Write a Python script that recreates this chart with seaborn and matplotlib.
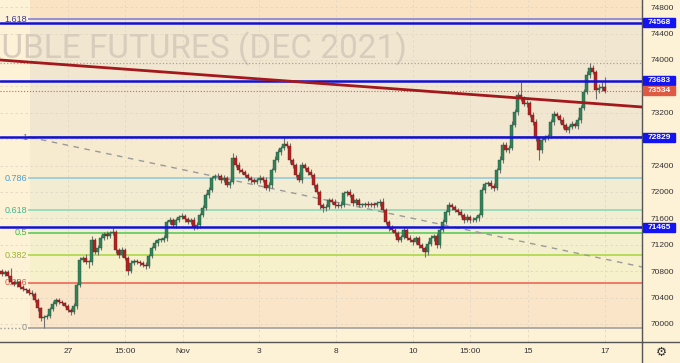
import numpy as np
import pandas as pd
import seaborn as sns
import matplotlib.pyplot as plt
from matplotlib.patches import Rectangle
from matplotlib.lines import Line2D

# Candles (hourly closes) --------------------------------------------------
first_open = 70800
close = [
    70760, 70790, 70725, 70635, 70605, 70635, 70560, 70530, 70515, 70470,
    70455, 70365, 70240, 70090, 70105, 70120, 70225, 70305, 70365, 70335,
    70320, 70275, 70210, 70180, 70275, 70590, 70970, 71000, 70940, 70940,
    71275, 71090, 71150, 71305, 71365, 71335, 71380, 71395, 71120, 71045,
    71120, 71000, 70805, 70925, 70955, 70940, 70925, 70895, 70880, 71030,
    71150, 71225, 71275, 71275, 71305, 71545, 71575, 71500, 71575, 71620,
    71635, 71590, 71545, 71575, 71470, 71500, 71650, 71755, 71955, 72030,
    72210, 72240, 72240, 72180, 72210, 72105, 72150, 72515, 72410, 72335,
    72305, 72255, 72210, 72180, 72150, 72180, 72210, 72180, 72060, 72105,
    72335, 72485, 72605, 72665, 72725, 72695, 72485, 72410, 72255, 72180,
    72410, 72365, 72305, 72255, 72105, 72000, 71805, 71755, 71775, 71880,
    71850, 71805, 71790, 71805, 71985, 72000, 71955, 71835, 71880, 71805,
    71805, 71820, 71805, 71820, 71805, 71835, 71850, 71725, 71545, 71455,
    71425, 71380, 71275, 71320, 71425, 71305, 71275, 71240, 71305, 71195,
    71150, 71090, 71210, 71305, 71335, 71195, 71425, 71545, 71695, 71805,
    71775, 71725, 71695, 71650, 71575, 71620, 71575, 71575, 71605, 71650,
    72030, 72120, 72135, 72090, 72060, 72335, 72485, 72710, 72635, 72665,
    73015, 73210, 73470, 73425, 73335, 73350, 73165, 73060, 72820, 72635,
    72790, 72835, 72850, 73060, 73180, 73150, 73090, 73015, 72940, 72985,
    73030, 73000, 73090, 73270, 73515, 73770, 73880, 73820, 73545, 73575,
    73590, 73534,
]
wick_up = [
    40, 35, 30, 125, 30, 45, 25, 30, 20, 35, 40, 30, 25, 20, 30, 35, 25, 40, 30, 25,
    30, 20, 35, 25, 40, 30, 45, 25, 55, 30, 60, 35, 40, 45, 30, 40, 25, 60, 30, 25,
    40, 30, 35, 40, 25, 30, 35, 30, 45, 35, 30, 40, 25, 35, 50, 30, 40, 35, 30, 25,
    40, 30, 35, 30, 45, 40, 35, 50, 30, 40, 25, 35, 45, 30, 40, 35, 30, 75, 45, 40,
    30, 35, 40, 25, 30, 35, 40, 30, 45, 50, 35, 60, 40, 35, 104, 40, 45, 35, 30, 55,
    40, 35, 30, 45, 40, 35, 30, 25, 40, 35, 30, 45, 40, 55, 35, 30, 40, 30, 35, 25,
    30, 35, 40, 30, 25, 35, 40, 60, 30, 35, 40, 30, 25, 35, 45, 30, 40, 35, 30, 25,
    30, 35, 40, 50, 35, 40, 30, 45, 35, 40, 30, 25, 35, 40, 30, 45, 35, 40, 30, 35,
    40, 35, 30, 45, 40, 35, 60, 45, 50, 40, 55, 45, 40, 196, 35, 40, 30, 45, 40, 35,
    40, 30, 35, 45, 40, 35, 30, 40, 35, 30, 40, 35, 45, 50, 40, 60, 75, 40, 35, 60,
    70, 150,
]
wick_dn = [
    30, 40, 25, 35, 30, 45, 30, 25, 40, 30, 35, 25, 40, 50, 150, 35, 30, 25, 40, 30,
    35, 25, 30, 40, 35, 45, 30, 25, 35, 90, 40, 30, 45, 35, 30, 40, 35, 30, 45, 40,
    30, 35, 65, 40, 30, 35, 45, 30, 40, 35, 30, 25, 40, 35, 30, 45, 35, 30, 40, 35,
    30, 40, 35, 30, 45, 35, 40, 30, 35, 40, 30, 35, 40, 45, 30, 35, 40, 30, 35, 40,
    35, 30, 40, 45, 35, 30, 40, 35, 30, 45, 40, 35, 30, 40, 35, 30, 45, 40, 35, 30,
    40, 35, 45, 30, 40, 35, 60, 65, 40, 35, 30, 45, 40, 35, 30, 40, 35, 45, 30, 40,
    35, 30, 40, 35, 45, 30, 40, 35, 30, 40, 35, 45, 40, 30, 35, 40, 30, 45, 35, 40,
    50, 75, 40, 35, 45, 45, 40, 35, 30, 40, 45, 35, 40, 30, 45, 35, 40, 30, 35, 40,
    35, 40, 30, 45, 40, 35, 40, 45, 35, 40, 30, 35, 40, 45, 35, 40, 30, 45, 40, 150,
    40, 35, 45, 30, 40, 35, 40, 45, 35, 40, 30, 35, 40, 45, 35, 30, 40, 35, 135, 40,
    45, 30,
]

# Levels -------------------------------------------------------------------
fib_low, fib_high = 69940, 72829
fib_ratios = [0, 0.236, 0.382, 0.5, 0.618, 0.786, 1, 1.618]
fib_labels = ['0', '0.236', '0.382', '0.5', '0.618', '0.786', '1', '1.618']
fib_line_colors = ['#9a9a9a', '#ef5b4b', '#a5d63c', '#52c852', '#86d6b2',
                   '#8cc8da', '#8a8a8a', '#7878d8']
fib_text_colors = ['#8a8a8a', '#e05a4a', '#9ab82e', '#3fb83f', '#3cb890',
                   '#4a9fd0', '#7a7a7a', '#3b3b8f']
fib_fills = ['#fbe5c8', '#f6f0cb', '#f4f0ce', '#f2eed2', '#f2ecd3',
             '#f6ebcf', '#f1e6d0', '#fae3c3']

blue_levels = [74568, 73683, 72829, 71465]
last_price = 73534
session_high = 73955

trend_x = [0, 642]
trend_y = [74000, 73288]
diag_x = [30, 642]
diag_y = [72829, 70864]

x_tick_pos = [68, 125, 183, 259, 336, 413, 470, 528, 605]
x_tick_labels = ['27', '15:00', 'Nov', '3', '8', '10', '15:00', '15', '17']
y_ticks = list(range(70000, 74801, 400))
y_hidden = [73600, 72800]   # covered by the price tags

# Figure -------------------------------------------------------------------
sns.set_style("white")
plt.rcParams['font.family'] = ['Liberation Sans', 'DejaVu Sans']

bg = '#fdf1d6'
fig = plt.figure(figsize=(6.8, 3.63), dpi=100)
fig.patch.set_facecolor(bg)
ax = fig.add_axes([0, 21 / 363, 642 / 680, 342 / 363])
ax.set_facecolor(bg)
ax.set_xlim(0, 642)
ax.set_ylim(69727, 74909)

df = pd.DataFrame({'close': close, 'up': wick_up, 'dn': wick_dn})
df['x'] = 1.5 + 3 * np.arange(len(df))
df['open'] = df['close'].shift(1).fillna(first_open)
df['top'] = df[['open', 'close']].max(axis=1)
df['bot'] = df[['open', 'close']].min(axis=1)
df['high'] = df['top'] + df['up']
df['low'] = df['bot'] - df['dn']
df['rising'] = df['close'] >= df['open']

# fib bands
x0f = 30 / 642
levels = [fib_low + r * (fib_high - fib_low) for r in fib_ratios]
for i in range(len(levels) - 1):
    ax.axhspan(levels[i], levels[i + 1], xmin=x0f, xmax=1, color=fib_fills[i], lw=0, zorder=0.2)
ax.axhspan(levels[-1], 74909, xmin=x0f, xmax=1, color=fib_fills[-1], lw=0, zorder=0.2)
for lv, lab, lc, tc in zip(levels, fib_labels, fib_line_colors, fib_text_colors):
    ax.hlines(lv, 28, 642, color=lc, lw=1.1, zorder=1)
    ax.text(27, lv, lab, ha='right', va='center', fontsize=6.5, color=tc, zorder=1.2)
ax.hlines(fib_low, 0, 21, color='#9a9a9a', lw=1, ls=':', zorder=1)

# watermark
ax.text(-19, 74030, 'RUBLE FUTURES (DEC 2021)', fontsize=24, family='Roboto',
        color='#d8cdbd', va='baseline', ha='left', zorder=0.6)

# grid
ax.set_yticks(y_ticks)
ax.set_yticklabels(['' if t in y_hidden else str(t) for t in y_ticks])
ax.set_xticks(x_tick_pos)
ax.set_xticklabels(x_tick_labels)
ax.set_axisbelow(True)
ax.grid(True, color='#e2d8c4', lw=0.6, ls=(0, (3, 3)))

# candles
ax.vlines(df['x'], df['low'], df['high'], color='#707070', lw=0.8, zorder=3)
for rising, col, edge in [(True, '#34805a', '#1f5a3c'), (False, '#b22222', '#7a1515')]:
    sub = df[df['rising'] == rising]
    ax.bar(sub['x'], (sub['top'] - sub['bot']).clip(lower=8), bottom=sub['bot'],
           width=2.2, color=col, edgecolor=edge, lw=0.3, zorder=3.2)

# lines
ax.axhline(session_high, color='#a8a298', lw=0.9, ls=':', zorder=2)
ax.axhline(last_price, color='#e0604a', lw=0.8, ls=':', zorder=2)
sns.lineplot(x=diag_x, y=diag_y, ax=ax, color='#9a9a9a', lw=1, dashes=False,
             linestyle=(0, (4, 4)), zorder=2)
for lv in blue_levels:
    ax.axhline(lv, color='#1010d8', lw=1.8, zorder=4)
sns.lineplot(x=trend_x, y=trend_y, ax=ax, color='#a3181c', lw=2, zorder=4.5)

# axes look
for s in ['left', 'top']:
    ax.spines[s].set_visible(False)
for s in ['right', 'bottom']:
    ax.spines[s].set_color('#555555')
    ax.spines[s].set_linewidth(1)
ax.yaxis.tick_right()
ax.tick_params(axis='y', length=0, pad=6, labelsize=6, labelcolor='#333333')
ax.tick_params(axis='x', length=0, pad=4, labelsize=6, labelcolor='#333333')
ax.set_xlabel('')
ax.set_ylabel('')

# price tags on the scale
tag_h = 136
for lv in blue_levels:
    ax.add_patch(Rectangle((643, lv - tag_h / 2), 32, tag_h, color='#1414f0', clip_on=False, zorder=5))
    ax.text(659, lv, str(lv), ha='center', va='center', fontsize=6, color='white',
            fontweight='bold', clip_on=False, zorder=6)
ax.add_patch(Rectangle((643, last_price - tag_h / 2), 32, tag_h, color='#df5a44', clip_on=False, zorder=5))
ax.text(659, last_price, str(last_price), ha='center', va='center', fontsize=6, color='white',
        fontweight='bold', clip_on=False, zorder=6)

fig.add_artist(Line2D([642 / 680, 642 / 680], [0, 21 / 363], color='#555555', lw=1))
fig.add_artist(Line2D([642 / 680, 1], [21 / 363, 21 / 363], color='#555555', lw=1))
fig.text(661 / 680, 1 - 352 / 363, '\u2699', fontsize=9, family='DejaVu Sans',
         color='#333333', ha='center', va='center')

fig.savefig('out.png', dpi=100, facecolor=bg)
